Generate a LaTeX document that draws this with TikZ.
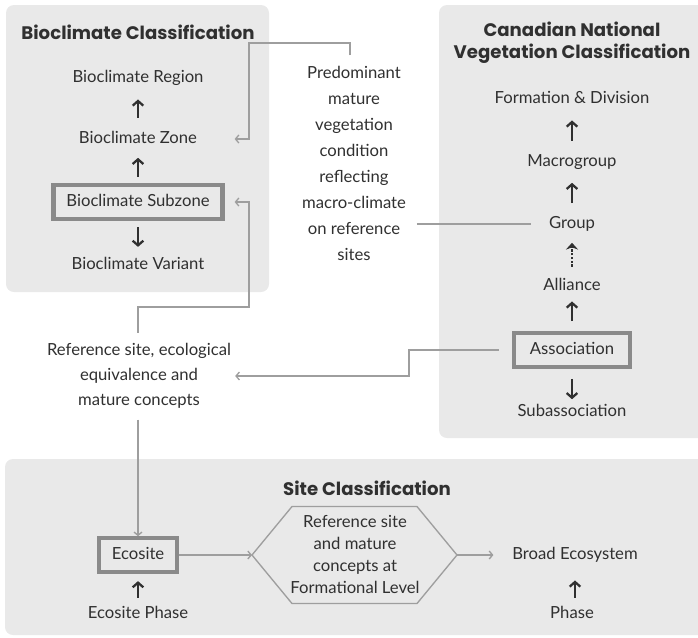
\documentclass[tikz,border=0pt]{standalone}
\usepackage{fontspec}
\setmainfont{Lato}
\newfontfamily\titlefont{Poppins}
\usetikzlibrary{arrows.meta,positioning}
\definecolor{PanelClr}{RGB}{233,233,233}
\definecolor{LinkClr}{RGB}{158,158,158}
\definecolor{BoxClr}{RGB}{138,138,138}
\definecolor{TextClr}{RGB}{48,48,48}

\begin{document}
\begin{tikzpicture}[x=0.75pt,y=-0.75pt,
  panel/.style={fill=PanelClr,rounded corners=6pt},
  head/.style={text=TextClr,font=\titlefont\bfseries\fontsize{13.6}{16.5}\selectfont,align=center},
  lbl/.style={text=TextClr,font=\fontsize{12.5}{15}\selectfont,text height=9pt,text depth=2.8pt,inner sep=1pt},
  keybox/.style={lbl,draw=BoxClr,line width=3.2pt,minimum height=25pt},
  note/.style={text=TextClr,align=center,inner xsep=2pt,inner ysep=8pt},
  link/.style={draw=LinkClr,line width=1pt},
  linkto/.style={link,-{Straight Barb[length=2.5pt,width=6pt]}},
  rise/.style={draw=TextClr,line width=1.7pt,-{Straight Barb[length=3.5pt,width=8pt]},shorten <=9pt,shorten >=9pt},
]
\useasboundingbox (0,0) rectangle (698,637);

% panels
\fill[panel] (6,5) rectangle (269,292);
\fill[panel] (439,5) rectangle (712,438);
\fill[panel] (5,459) rectangle (712,635);

% Bioclimate Classification
\node[head] (bcTitle) at (138,32) {Bioclimate Classification};
\node[lbl] (region) at (138,78) {Bioclimate Region};
\node[lbl] (zone) at (138,139) {Bioclimate Zone};
\node[keybox,minimum width=126.75pt] (subzone) at (138,202) {Bioclimate Subzone};
\node[lbl] (variant) at (138,265) {Bioclimate Variant};

\draw[rise] (zone) -- (region);
\draw[rise,shorten <=5pt,shorten >=7pt] (subzone) -- (zone);
\draw[rise,shorten <=5pt,shorten >=6.5pt] (subzone) -- (variant);

% Canadian National Vegetation Classification
\node[head] (cnvcTitle) at (572,43) {Canadian National\\Vegetation Classification};
\node[lbl] (formation) at (572,99) {Formation \& Division};
\node[lbl] (macro) at (572,162) {Macrogroup};
\node[lbl] (group) at (572,224) {Group};
\node[lbl] (alliance) at (572,286) {Alliance};
\node[keybox,minimum width=87pt] (assoc) at (572,350) {Association};
\node[lbl] (subassoc) at (572,412) {Subassociation};

\draw[rise,shorten >=9pt] (macro) -- (formation);
\draw[rise,shorten <=8.5pt,shorten >=8.5pt] (group) -- (macro);
\draw[rise,-{Stealth[length=5pt,width=9pt,inset=1.5pt]},dash pattern=on 1.6pt off 1.2pt,line width=2pt,shorten <=7.5pt,shorten >=7pt] (alliance) -- (group);
\draw[rise,shorten <=7.5pt,shorten >=4.5pt] (assoc) -- (alliance);
\draw[rise,shorten <=7.5pt,shorten >=2.5pt] (assoc) -- (subassoc);

% concepts between the systems
\node[note,font=\fontsize{12.5}{19.5}\selectfont] (pred) at (354,163.5)
  {Predominant\\mature\\vegetation\\condition\\reflecting\\macro-climate\\on reference\\sites};
\node[note,font=\fontsize{12.5}{18.75}\selectfont] (refsite) at (139,376)
  {Reference site, ecological\\equivalence and\\mature concepts};

\draw[linkto,shorten >=7.5pt] (pred.north -| 350,0) -- (350,43) -| (249,139) -- (zone.east -| subzone.east);
\draw[linkto,shorten >=7.5pt] (refsite.north -| 138,0) -- (138,307) -| (249,202) -- (subzone.east);
\draw[link,shorten <=6pt,shorten >=12pt] (pred.east |- group.west) -- (group.west);
\draw[linkto,shorten <=10pt,shorten >=1pt] (assoc.west) -- (409,350) |- (refsite.east);

% Site Classification
\node[head] (siteTitle) at (367,488) {Site Classification};
\node[keybox,minimum width=59pt] (ecosite) at (138,555) {Ecosite};
\node[lbl] (ecoPhase) at (138,614) {Ecosite Phase};
\coordinate (hexW) at (252,555);
\coordinate (hexE) at (457,555);
\draw[link] (hexW) -- ++(40,-48.5) -- ++(125,0) -- (hexE) -- ++(-40,48.5) -- ++(-125,0) -- cycle;
\node[note,inner ysep=2pt,font=\fontsize{12.5}{16.5}\selectfont] (hexTxt) at (355,554)
  {Reference site\\and mature\\concepts at\\Formational Level};
\node[lbl] (broad) at (575,555) {Broad Ecosystem};
\node[lbl] (phase) at (572,614) {Phase};

\draw[linkto] (refsite.south -| ecosite.north) -- (ecosite.north);
\draw[linkto] (ecosite.east) -- (hexW);
\draw[linkto,shorten >=13pt] (hexE) -- (broad.west);
\draw[rise,shorten <=5pt,shorten >=5.5pt] (ecoPhase) -- (ecosite);
\draw[rise,shorten <=5pt,shorten >=12pt] (phase.north -| broad) -- (broad);

\end{tikzpicture}
\end{document}
